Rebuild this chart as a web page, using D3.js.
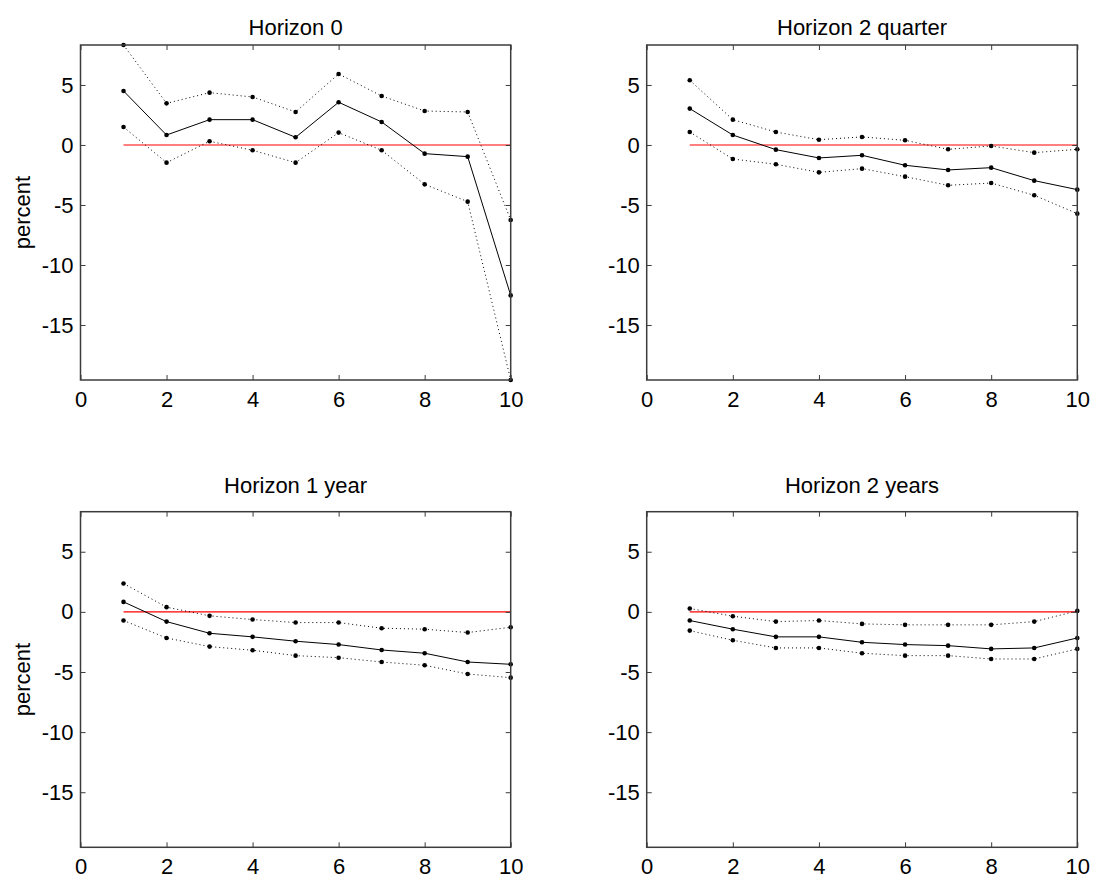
<!DOCTYPE html>
<html>
<head>
<meta charset="utf-8">
<script src="https://cdn.jsdelivr.net/npm/d3@7"></script>
<style>
  body { margin: 0; background: #fff; }
  svg { display: block; font-family: "Liberation Sans", Arial, sans-serif; }
</style>
</head>
<body>
<svg id="chart" width="1099" height="884"></svg>
<script>
// data
var steps = [1, 2, 3, 4, 5, 6, 7, 8, 9, 10];
var titles = ["Horizon 0", "Horizon 2 quarter", "Horizon 1 year", "Horizon 2 years"];
var xTicks = [0, 2, 4, 6, 8, 10];
var yTicks = [-15, -10, -5, 0, 5];

var h0Up  = [8.33, 3.47, 4.36, 4.00, 2.75, 5.92, 4.08, 2.83, 2.75, -6.25];
var h0Mid = [4.50, 0.83, 2.11, 2.11, 0.64, 3.56, 1.92, -0.72, -0.97, -12.53];
var h0Lo  = [1.50, -1.47, 0.31, -0.44, -1.47, 1.03, -0.44, -3.28, -4.72, -19.58];

var h2qUp  = [5.39, 2.11, 1.08, 0.44, 0.67, 0.39, -0.36, -0.08, -0.64, -0.36];
var h2qMid = [3.03, 0.83, -0.39, -1.08, -0.86, -1.69, -2.08, -1.89, -2.97, -3.72];
var h2qLo  = [1.08, -1.17, -1.61, -2.28, -1.97, -2.64, -3.36, -3.17, -4.19, -5.72];

var h1yUp  = [2.36, 0.39, -0.33, -0.64, -0.89, -0.89, -1.36, -1.44, -1.72, -1.28];
var h1yMid = [0.83, -0.81, -1.78, -2.08, -2.44, -2.72, -3.17, -3.44, -4.17, -4.36];
var h1yLo  = [-0.72, -2.17, -2.89, -3.19, -3.64, -3.81, -4.17, -4.44, -5.17, -5.47];

var h2yUp  = [0.28, -0.36, -0.81, -0.72, -1.00, -1.08, -1.08, -1.08, -0.81, 0.08];
var h2yMid = [-0.72, -1.44, -2.08, -2.08, -2.53, -2.72, -2.81, -3.08, -3.00, -2.17];
var h2yLo  = [-1.56, -2.36, -3.00, -3.00, -3.44, -3.64, -3.64, -3.92, -3.92, -3.08];

var panels = [
    { title: titles[0], up: h0Up, mid: h0Mid, lo: h0Lo, col: 0, row: 0 },
    { title: titles[1], up: h2qUp, mid: h2qMid, lo: h2qLo, col: 1, row: 0 },
    { title: titles[2], up: h1yUp, mid: h1yMid, lo: h1yLo, col: 0, row: 1 },
    { title: titles[3], up: h2yUp, mid: h2yMid, lo: h2yLo, col: 1, row: 1 }
];

var cols = [[80.5, 510.7], [646.7, 1077.3]],
    rows = [[45, 380], [511.7, 847.3]],
    titleY = [35, 493];

// all panels share the tight y range of the data
var allVals = [];
panels.forEach(function (p) { allVals = allVals.concat(p.up, p.mid, p.lo); });
var yDomain = d3.extent(allVals);

var svg = d3.select("#chart");

panels.forEach(function (p) {
    var x = d3.scaleLinear().domain([0, 10]).range(cols[p.col]),
        y = d3.scaleLinear().domain(yDomain).range([rows[p.row][1], rows[p.row][0]]);

    var g = svg.append("g");
    var left = cols[p.col][0], right = cols[p.col][1],
        top = rows[p.row][0], bottom = rows[p.row][1];

    var line = d3.line()
        .x(function (d, i) { return x(steps[i]); })
        .y(function (d) { return y(d); });

    // zero line
    g.append("line")
        .attr("x1", x(steps[0])).attr("x2", x(steps[steps.length - 1]))
        .attr("y1", y(0)).attr("y2", y(0))
        .attr("stroke", "#ff0000").attr("stroke-width", 1.2);

    // bands and estimate
    [["up", "1,3"], ["lo", "1,3"], ["mid", null]].forEach(function (s) {
        g.append("path")
            .datum(p[s[0]])
            .attr("d", line)
            .attr("fill", "none")
            .attr("stroke", "#000")
            .attr("stroke-width", 1)
            .attr("stroke-dasharray", s[1]);

        g.append("g").selectAll("circle")
            .data(p[s[0]])
            .enter()
            .append("circle")
            .attr("cx", function (d, i) { return x(steps[i]); })
            .attr("cy", function (d) { return y(d); })
            .attr("r", 2.3)
            .attr("fill", "#000");
    });

    // axes, MATLAB style with ticks pointing in on every side
    var fmt = function (d) { return d; };
    var styleAxis = function (a) {
        a.select(".domain").remove();
        a.selectAll(".tick line").attr("stroke", "#3c3c3c");
        a.selectAll("text").attr("font-size", 22).attr("fill", "#000")
            .attr("font-family", "'Liberation Sans', Arial, sans-serif");
    };

    g.append("g").attr("transform", "translate(0," + bottom + ")")
        .call(d3.axisBottom(x).tickValues(xTicks).tickFormat(fmt).tickSizeInner(-5).tickSizeOuter(0).tickPadding(11))
        .call(styleAxis);
    g.append("g").attr("transform", "translate(0," + top + ")")
        .call(d3.axisTop(x).tickValues(xTicks).tickFormat("").tickSizeInner(-5).tickSizeOuter(0))
        .call(styleAxis);
    g.append("g").attr("transform", "translate(" + left + ",0)")
        .call(d3.axisLeft(y).tickValues(yTicks).tickFormat(fmt).tickSizeInner(-5).tickSizeOuter(0).tickPadding(7))
        .call(styleAxis);
    g.append("g").attr("transform", "translate(" + right + ",0)")
        .call(d3.axisRight(y).tickValues(yTicks).tickFormat("").tickSizeInner(-5).tickSizeOuter(0))
        .call(styleAxis);

    // box
    g.append("rect")
        .attr("x", left).attr("y", top)
        .attr("width", right - left).attr("height", bottom - top)
        .attr("fill", "none").attr("stroke", "#3c3c3c").attr("stroke-width", 1.5);

    g.append("text")
        .attr("x", (left + right) / 2).attr("y", titleY[p.row])
        .attr("text-anchor", "middle")
        .attr("font-size", 22)
        .text(p.title);

    if (p.col === 0) {
        g.append("text")
            .attr("transform", "translate(30," + (top + bottom) / 2 + ") rotate(-90)")
            .attr("text-anchor", "middle")
            .attr("font-size", 22)
            .text("percent");
    }
});
</script>
</body>
</html>
